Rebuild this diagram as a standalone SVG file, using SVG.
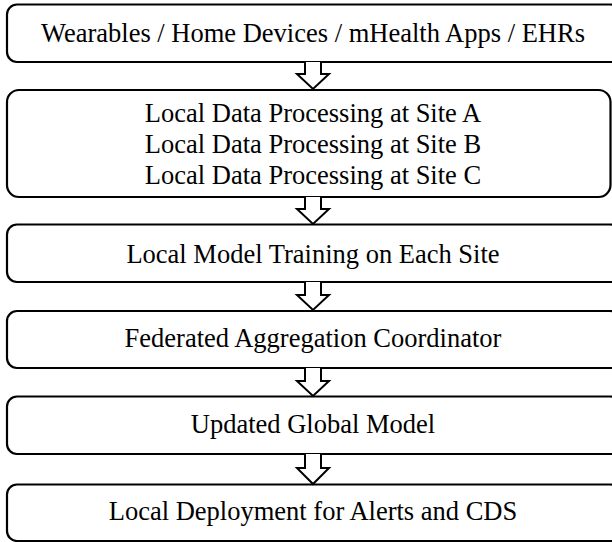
<svg xmlns="http://www.w3.org/2000/svg" width="612" height="542" viewBox="0 0 612 542">
<style>
.box{fill:#fff;stroke:#000;stroke-width:2.2}
text{font-family:'Liberation Serif','Times New Roman',Tinos,'Nimbus Roman','DejaVu Serif',serif;font-size:26.5px;fill:#000;text-anchor:middle}
.arr{fill:#fff;stroke:#000;stroke-width:2;stroke-linejoin:miter}
</style>
<rect width="612" height="542" fill="#fff"/>
<g id="n1"><rect class="box" x="7" y="4.5" width="613" height="57.5" rx="10"/><text x="313" y="42">Wearables / Home Devices / mHealth Apps / EHRs</text></g>
<g id="n2"><rect class="box" x="7" y="90" width="603.5" height="107" rx="12"/><text x="313" y="122">Local Data Processing at Site A</text><text x="313" y="153">Local Data Processing at Site B</text><text x="313" y="184">Local Data Processing at Site C</text></g>
<g id="n3"><rect class="box" x="7" y="224.5" width="613" height="57.5" rx="10"/><text x="313" y="263">Local Model Training on Each Site</text></g>
<g id="n4"><rect class="box" x="7" y="311" width="613" height="57" rx="10"/><text x="313" y="347">Federated Aggregation Coordinator</text></g>
<g id="n5"><rect class="box" x="7" y="396.5" width="613" height="57.5" rx="10"/><text x="313" y="433">Updated Global Model</text></g>
<g id="n6"><rect class="box" x="7" y="484.5" width="613" height="56.5" rx="10"/><text x="313" y="520">Local Deployment for Alerts and CDS</text></g>
<g id="connectors">
<path class="arr" d="M305,62 V74 H297 L313,89 L329,74 H321 V62"/>
<path class="arr" d="M305,197 V209 H297 L313,224 L329,209 H321 V197"/>
<path class="arr" d="M305,282 V295 H297 L313,310 L329,295 H321 V282"/>
<path class="arr" d="M305,368 V381 H297 L313,396 L329,381 H321 V368"/>
<path class="arr" d="M305,454 V468 H297 L313,484 L329,468 H321 V454"/>
</g>
</svg>
